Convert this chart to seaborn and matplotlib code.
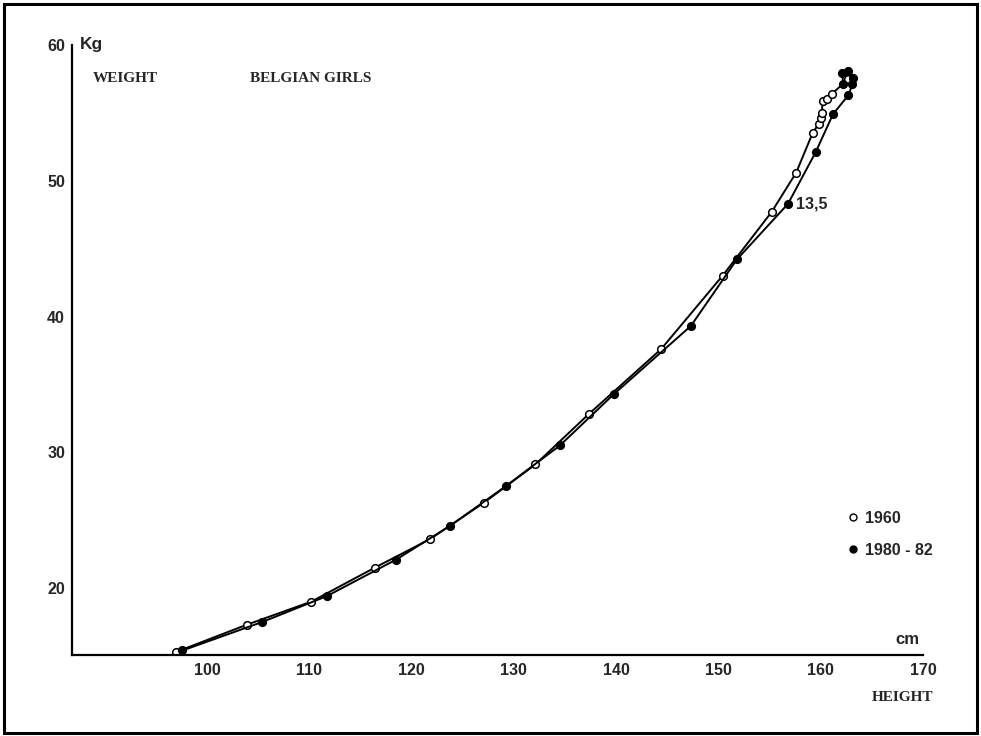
import matplotlib
matplotlib.use("Agg")
import matplotlib.pyplot as plt
from matplotlib.lines import Line2D
from matplotlib.patches import Rectangle
import seaborn as sns

# 1960 survey (open circles)
height_1960 = [97.0, 103.9, 110.2, 116.4, 121.8, 127.1, 132.1, 137.3, 144.4, 150.4,
               155.2, 157.6, 159.2, 159.8, 160.0, 160.1, 160.2, 160.6, 161.1, 162.7]
weight_1960 = [15.3, 17.3, 19.0, 21.5, 23.6, 26.3, 29.1, 32.8, 37.6, 43.0,
               47.7, 50.6, 53.5, 54.2, 54.6, 55.0, 55.9, 56.0, 56.4, 57.5]

# 1980-82 survey (filled circles)
height_1980 = [97.6, 105.4, 111.7, 118.5, 123.8, 129.2, 134.5, 139.8, 147.3, 151.8,
               156.8, 159.5, 161.2, 162.7, 163.1, 163.2, 162.7, 162.1, 162.2]
weight_1980 = [15.4, 17.5, 19.4, 22.1, 24.6, 27.5, 30.5, 34.3, 39.3, 44.2,
               48.3, 52.1, 54.9, 56.3, 57.1, 57.6, 58.1, 57.9, 57.1]

x_ticks = [100, 110, 120, 130, 140, 150, 160, 170]
y_ticks = [20, 30, 40, 50, 60]
legend_labels = ["1960", "1980 - 82"]
age_note = "13,5"
age_note_index = 10

sns.set_style("white")
plt.rcParams["font.family"] = ["Liberation Sans", "DejaVu Sans"]

fig = plt.figure(figsize=(9.81, 7.36), dpi=100)
ax = fig.add_axes([0.0734, 0.1101, 0.8675, 0.8288])

sns.lineplot(x=height_1960, y=weight_1960, sort=False, estimator=None, ax=ax,
             color="black", linewidth=1.4, marker="o", markersize=5.5,
             markerfacecolor="white", markeredgecolor="black", markeredgewidth=1.1)
sns.lineplot(x=height_1980, y=weight_1980, sort=False, estimator=None, ax=ax,
             color="black", linewidth=1.4, marker="o", markersize=5.5,
             markerfacecolor="black", markeredgecolor="black", markeredgewidth=1.1)

ax.set_xlim(86.8, 170)
ax.set_ylim(15.07, 60)
ax.set_xticks(x_ticks)
ax.set_yticks(y_ticks)
ax.set_xticklabels([str(t) for t in x_ticks], fontsize=11.5, fontweight="bold")
ax.set_yticklabels([str(t) for t in y_ticks], fontsize=11.5, fontweight="bold")
ax.tick_params(axis="x", direction="in", length=4, width=1.2, pad=6)
ax.tick_params(axis="y", direction="out", length=4, width=1.2, pad=1)
sns.despine(ax=ax)
for side in ["left", "bottom"]:
    ax.spines[side].set_linewidth(1.6)
    ax.spines[side].set_color("black")

ax.text(87.6, 60, "Kg", fontsize=12.5, fontweight="bold", va="center", ha="left")
ax.text(168.5, 16.2, "cm", fontsize=12, fontweight="bold", va="center", ha="center")
ax.text(1.012, -0.07, "HEIGHT", transform=ax.transAxes, fontsize=11, fontweight="bold",
        family=["Liberation Serif"], ha="right", va="center")
ax.text(0.025, 0.945, "WEIGHT", transform=ax.transAxes, fontsize=11, fontweight="bold",
        family=["Liberation Serif"], ha="left", va="center")
ax.text(0.209, 0.945, "BELGIAN GIRLS", transform=ax.transAxes, fontsize=11,
        fontweight="bold", family=["Liberation Serif"], ha="left", va="center")
ax.annotate(age_note, (height_1980[age_note_index], weight_1980[age_note_index]),
            xytext=(6, 0), textcoords="offset points", fontsize=11.5,
            fontweight="bold", va="center", ha="left")

handles = [
    Line2D([], [], linestyle="none", marker="o", markersize=5,
           markerfacecolor="white", markeredgecolor="black"),
    Line2D([], [], linestyle="none", marker="o", markersize=5,
           markerfacecolor="black", markeredgecolor="black"),
]
ax.legend(handles, legend_labels, loc="upper left", bbox_to_anchor=(0.891, 0.26),
          frameon=False, prop={"weight": "bold", "size": 11.5}, handletextpad=0.3,
          labelspacing=1.05, handlelength=1.0)

fig.patches.append(Rectangle((0.004, 0.004), 0.992, 0.990, transform=fig.transFigure,
                             fill=False, edgecolor="black", linewidth=2.2))

fig.savefig("out.png", dpi=100, facecolor="white")
